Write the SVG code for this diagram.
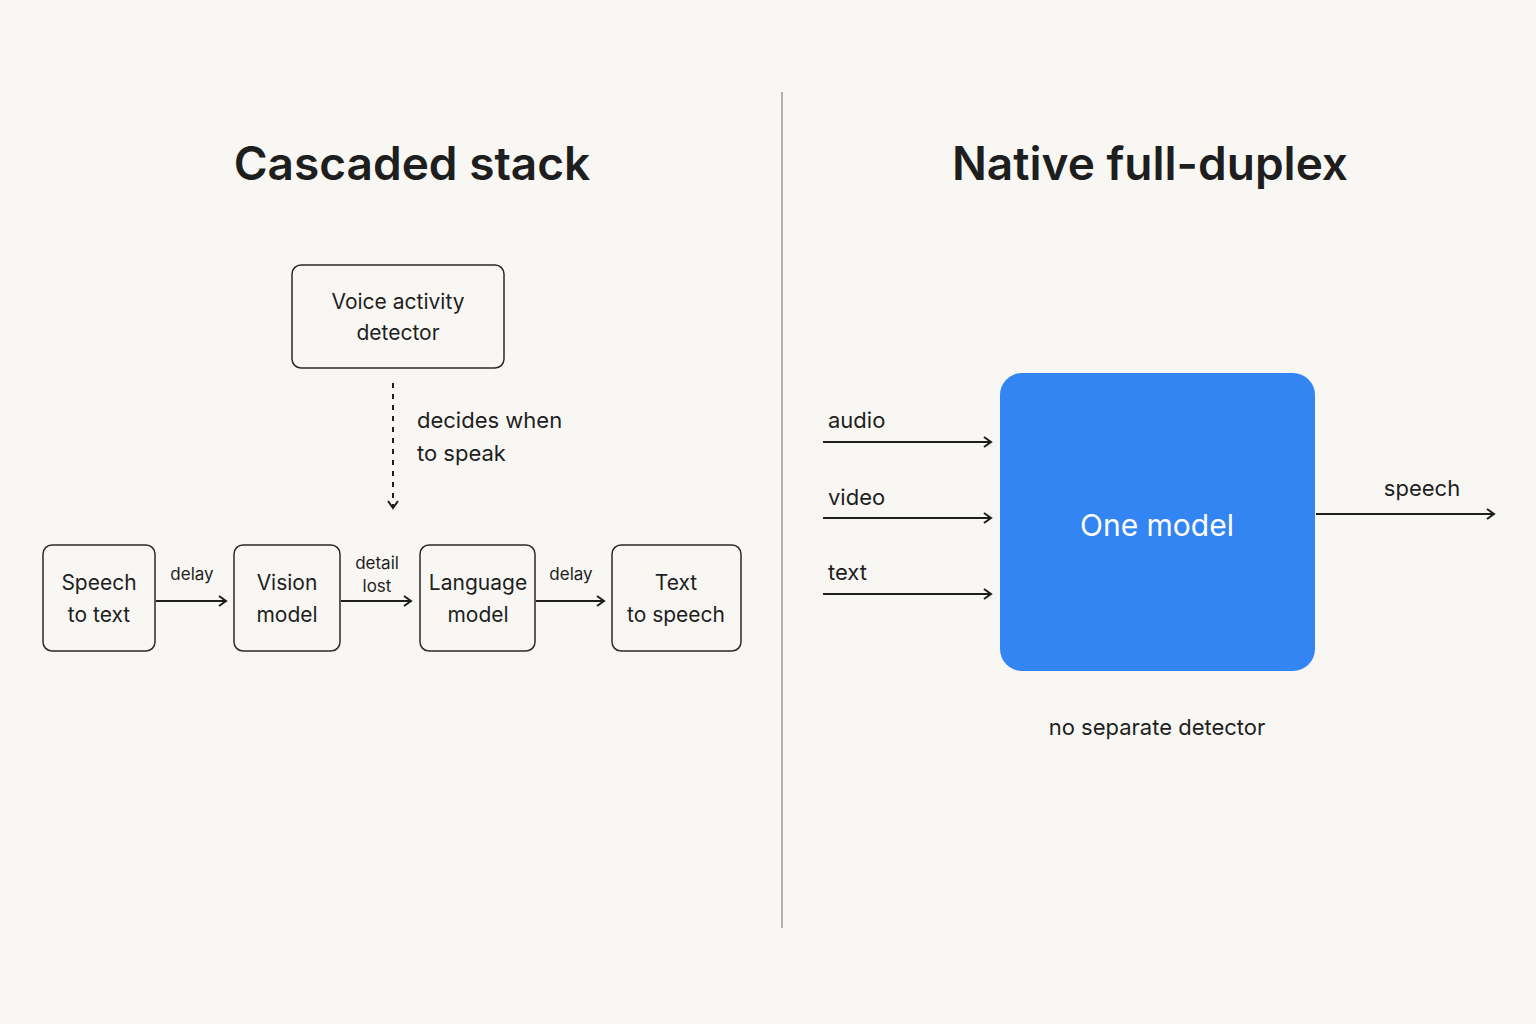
<svg xmlns="http://www.w3.org/2000/svg" width="1536" height="1024" viewBox="0 0 1536 1024">
<style>
text{font-family:Inter,"Liberation Sans",sans-serif;fill:#1e1e1e}
.t{font-size:46px;font-weight:600;text-anchor:middle}
.b{font-size:21px;text-anchor:middle}
.s{font-size:17px;text-anchor:middle}
.l{font-size:22px}
.box{fill:none;stroke:#2a2a2a;stroke-width:1.5}
.ar{stroke:#1e1e1e;stroke-width:2;fill:none;marker-end:url(#a)}
</style>
<defs><marker id="a" markerWidth="12" markerHeight="12" refX="10" refY="6" orient="auto" markerUnits="userSpaceOnUse"><path d="M3,1 L10,6 L3,11" fill="none" stroke="#1e1e1e" stroke-width="2"/></marker></defs>
<rect width="1536" height="1024" fill="#f8f7f3"/>
<line x1="782" y1="92" x2="782" y2="928" stroke="#9a9a9a" stroke-width="1.5"/>
<text class="t" x="412" y="180">Cascaded stack</text>
<text class="t" x="1150" y="180">Native full-duplex</text>
<g id="vad"><rect class="box" x="292" y="265" width="212" height="103" rx="9"/><text class="b" x="398" y="309">Voice activity</text><text class="b" x="398" y="340">detector</text></g>
<g id="stt"><rect class="box" x="43" y="545" width="112" height="106" rx="9"/><text class="b" x="99" y="590">Speech</text><text class="b" x="99" y="622">to text</text></g>
<g id="vision"><rect class="box" x="234" y="545" width="106" height="106" rx="9"/><text class="b" x="287" y="590">Vision</text><text class="b" x="287" y="622">model</text></g>
<g id="lm"><rect class="box" x="420" y="545" width="115" height="106" rx="9"/><text class="b" x="478" y="590">Language</text><text class="b" x="478" y="622">model</text></g>
<g id="tts"><rect class="box" x="612" y="545" width="129" height="106" rx="9"/><text class="b" x="676" y="590">Text</text><text class="b" x="676" y="622">to speech</text></g>
<g id="one"><rect x="1000" y="373" width="315" height="298" rx="22" fill="#3385f3"/><text x="1157" y="536" style="font-size:30px;fill:#fff;text-anchor:middle">One model</text></g>
<g id="connectors">
<line x1="393" y1="383" x2="393" y2="508" stroke="#1e1e1e" stroke-width="2" stroke-dasharray="5,6" marker-end="url(#a)"/>
<line class="ar" x1="156" y1="601" x2="226" y2="601"/>
<line class="ar" x1="341" y1="601" x2="411" y2="601"/>
<line class="ar" x1="536" y1="601" x2="604" y2="601"/>
<line class="ar" x1="823" y1="442" x2="991" y2="442"/>
<line class="ar" x1="823" y1="518" x2="991" y2="518"/>
<line class="ar" x1="823" y1="594" x2="991" y2="594"/>
<line class="ar" x1="1316" y1="514" x2="1494" y2="514"/>
</g>
<text class="l" x="417" y="428">decides when</text>
<text class="l" x="417" y="461">to speak</text>
<text class="s" x="192" y="580">delay</text>
<text class="s" x="377" y="569">detail</text>
<text class="s" x="377" y="592">lost</text>
<text class="s" x="571" y="580">delay</text>
<text class="l" x="828" y="428">audio</text>
<text class="l" x="828" y="505">video</text>
<text class="l" x="828" y="580">text</text>
<text class="l" x="1422" y="496" text-anchor="middle">speech</text>
<text class="l" x="1157" y="735" text-anchor="middle">no separate detector</text>
</svg>
